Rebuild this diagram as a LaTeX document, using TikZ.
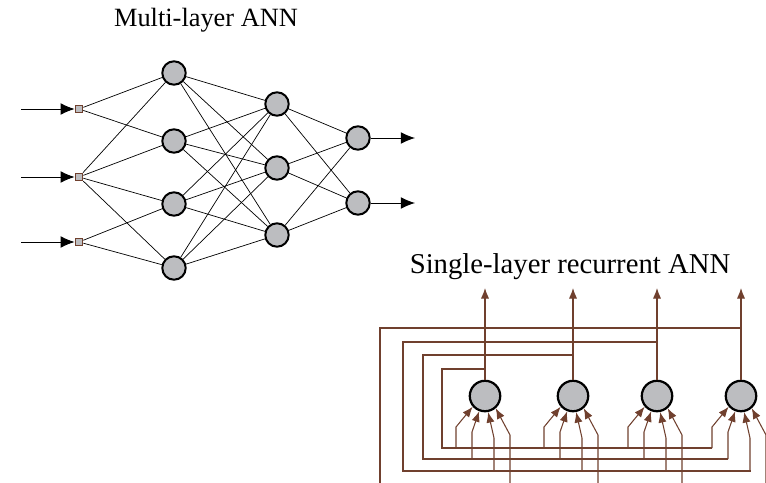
\documentclass[tikz,border=0pt]{standalone}
\usepackage{fontspec}
\setmainfont{Liberation Serif}
\usetikzlibrary{arrows.meta,calc}

\definecolor{cellgray}{RGB}{188,189,192}
\definecolor{wirebrown}{RGB}{112,64,46}

\tikzset{
  neuron/.style={circle, draw=black, line width=1.7pt, fill=cellgray, minimum size=20pt, inner sep=0pt},
  bigneuron/.style={neuron, line width=1.9pt, minimum size=26pt},
  insq/.style={rectangle, draw=wirebrown, line width=0.9pt, fill=cellgray, minimum size=6.5pt, inner sep=0pt},
  link/.style={line width=0.6pt, black},
  rwire/.style={line width=0.9pt, wirebrown},
  rarrow/.style={rwire, -{Latex[length=9pt,width=7pt]}},
  karrow/.style={line width=0.8pt, -{Latex[length=12pt,width=10pt]}}
}

\begin{document}
\begin{tikzpicture}[x=0.03cm, y=-0.03cm]

\useasboundingbox (0,0) rectangle (766,483);
\clip (0,0) rectangle (766,483);

% Titoli
\node[anchor=base, font=\fontsize{22.5}{27}\selectfont] (title1) at (206,27) {Multi-layer ANN};
\node[anchor=base, font=\fontsize{24.5}{29}\selectfont] (title2) at (570,273) {Single-layer recurrent ANN};

% Rete multistrato: ingressi
\foreach \i/\y in {1/109,2/177,3/242} {
  \node[insq] (x\i) at (79,\y) {};
  \coordinate (s\i) at (21,\y);
  \draw[karrow] (s\i) -- (x\i.west);
}

% Strati
\foreach \i/\y in {1/73,2/141,3/204,4/268} \node[neuron] (h\i) at (174,\y) {};
\foreach \i/\y in {1/104,2/168,3/235} \node[neuron] (m\i) at (277,\y) {};
\foreach \i/\y in {1/138,2/203} \node[neuron] (o\i) at (358,\y) {};

% Collegamenti
\foreach \a/\b in {x1/h1,x1/h2,x2/h1,x2/h2,x2/h3,x2/h4,x3/h3,x3/h4}
  \draw[link] (\a) -- (\b);
\foreach \i in {1,...,4}
  \foreach \j in {1,...,3}
    \draw[link] (h\i) -- (m\j);
\foreach \i in {1,...,3}
  \foreach \j in {1,2}
    \draw[link] (m\i) -- (o\j);

% Uscite
\foreach \i/\y in {1/138,2/203} {
  \coordinate (y\i) at (415,\y);
  \draw[karrow] (o\i) -- (y\i);
}

% Rete ricorrente
\foreach \i/\x in {1/485,2/573,3/657,4/741} {
  \node[bigneuron] (r\i) at (\x,396) {};
  \coordinate (u\i) at (\x,288);
  \draw[rarrow] (r\i.north) -- (u\i);
}

% Retroazioni
\foreach \i/\ty/\lx/\by/\ex in {1/369/442/448/712, 2/355/423/459/728, 3/342/403/471/751}
  \draw[rwire] (r\i |- 0,\ty) -| (\lx,\by) -- (\ex,\by);
\draw[rwire] (r4 |- 0,328) -| (380,495);

% Ingressi dei neuroni
\foreach \j in {1,...,4}
  \foreach \dx/\yb/\ys/\a in {-29/427/448/221, -13/432/459/249, 9/438/471/281, 25/435/495/311}
    \draw[rarrow] ($(r\j |- 0,\ys)+(\dx,0)$) -- ($(r\j |- 0,\yb)+(\dx,0)$) -- (r\j.\a);

\end{tikzpicture}
\end{document}
